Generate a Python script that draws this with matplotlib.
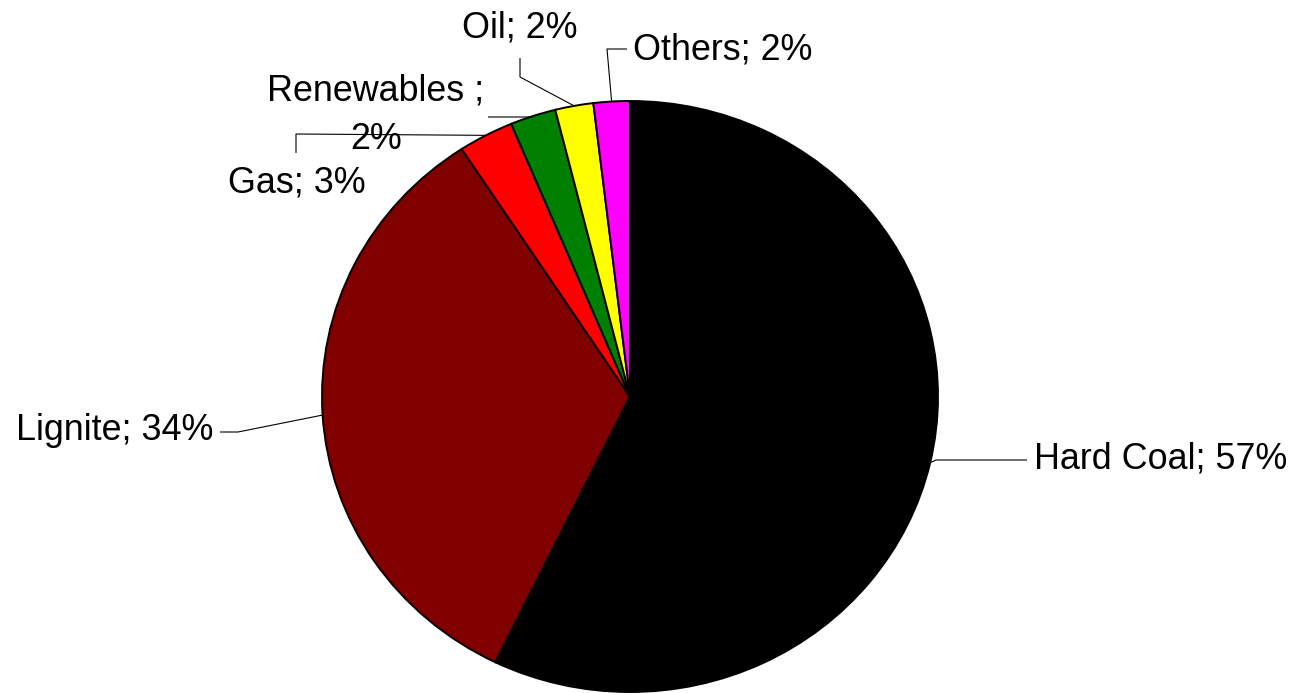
import numpy as np
import matplotlib
matplotlib.use("Agg")
import matplotlib.pyplot as plt

# =========================
# DATA
# =========================
categories = ["Hard Coal", "Lignite", "Gas", "Renewables ", "Oil", "Others"]
shares = [57.2, 33.6, 2.9, 2.4, 2.0, 1.9]
colors = ["#000000", "#800000", "#FF0000", "#008000", "#FFFF00", "#FF00FF"]

# =========================
# LAYOUT (pixels, figure 1294x693)
# =========================
W, H = 1294, 693
CX, CY = 630, 396.5      # pie centre
RX, RY = 308, 295.5      # pie is slightly wider than tall

plt.rcParams["font.family"] = ["Liberation Sans", "DejaVu Sans"]

fig = plt.figure(figsize=(W / 100, H / 100), dpi=100)
ax = fig.add_axes([0, 0, 1, 1])

ax.pie(shares, colors=colors, startangle=90, counterclock=False, radius=1,
       wedgeprops=dict(edgecolor="black", linewidth=1.4))
ax.set_aspect("auto")
ax.set_xlim(-CX / RX, (W - CX) / RX)
ax.set_ylim(-(H - CY) / RY, CY / RY)
ax.axis("off")


def px(x, y):
    # pixel (from top-left) -> data
    return (x - CX) / RX, (CY - y) / RY


# mid angle of each wedge on the rim, in pixels
cum = np.cumsum([0] + shares) / sum(shares)
mids = []
for i in range(len(shares)):
    ang = np.deg2rad(90 - 360 * (cum[i] + cum[i + 1]) / 2)
    mids.append((CX + RX * np.cos(ang), CY - RY * np.sin(ang)))

labels = [f"{c}; {round(s)}%" for c, s in zip(categories, shares)]
labels[3] = f"{categories[3]};\n{round(shares[3])}%"

# leader elbows and label anchors (pixels)
leaders = [
    [(936, 460), (1027, 460)],
    [(238, 432), (220, 432)],
    [(296, 134), (296, 153)],
    [(532, 117), (488, 117)],
    [(520, 77), (520, 58)],
    [(607, 49), (627, 49)],
]
text_pos = [
    (1034, 459, "left", 1.2),
    (213, 431, "right", 1.2),
    (297, 183, "center", 1.2),
    (376, 115, "center", 1.5),
    (520, 28, "center", 1.2),
    (633, 50, "left", 1.2),
]

for i, lab in enumerate(labels):
    pts = [mids[i]] + leaders[i]
    xs, ys = zip(*[px(x, y) for x, y in pts])
    ax.plot(xs, ys, color="black", linewidth=0.8, solid_capstyle="butt")
    tx, ty, ha, ls = text_pos[i]
    ax.text(*px(tx, ty), lab, ha=ha, va="center", fontsize=25.8,
            color="black", linespacing=ls)

fig.savefig("out.png", dpi=100, facecolor="white")
